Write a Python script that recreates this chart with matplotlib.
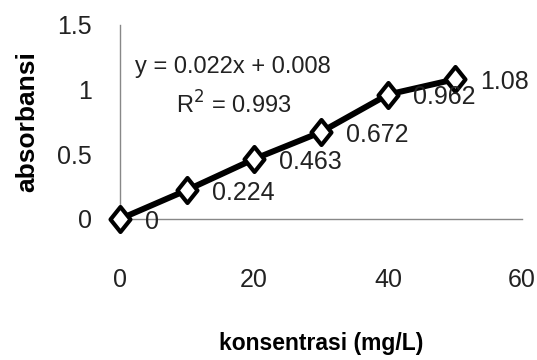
import matplotlib.pyplot as plt
from matplotlib.path import Path

konsentrasi = [0, 10, 20, 30, 40, 50]
absorbansi = [0, 0.224, 0.463, 0.672, 0.962, 1.08]
labels = ['0', '0.224', '0.463', '0.672', '0.962', '1.08']
xticks = [0, 20, 40, 60]
yticks = [0, 0.5, 1, 1.5]
ytick_labels = ['0', '0.5', '1', '1.5']

plt.rcParams['font.family'] = ['Liberation Sans', 'DejaVu Sans']

# excel style diamond, a bit taller than wide
diamond = Path([(0, 1), (0.8, 0), (0, -1), (-0.8, 0), (0, 1)],
               [Path.MOVETO, Path.LINETO, Path.LINETO, Path.LINETO, Path.CLOSEPOLY])

fig = plt.figure(figsize=(5.37, 3.6), dpi=100)
ax = fig.add_axes([0.2235, 0.3917, 0.7485, 0.539])

ax.plot(konsentrasi, absorbansi, c='black', lw=4.3, marker=diamond,
        ms=18, mfc='white', mec='black', mew=3, zorder=3, clip_on=False)
for x, y, t in zip(konsentrasi, absorbansi, labels):
    ax.annotate(t, (x, y), xytext=(18, -2), textcoords='offset points',
                ha='left', va='center', fontsize=18, color='#222222')

ax.text(0.281, 0.784, 'y = 0.022x + 0.008', transform=ax.transAxes,
        ha='center', va='center', fontsize=17, color='#222222')
ax.text(0.284, 0.588, 'R$^2$ = 0.993', transform=ax.transAxes,
        ha='center', va='center', fontsize=17, color='#222222')

ax.set_xlim(0, 60)
ax.set_ylim(0, 1.5)
ax.set_xticks(xticks)
ax.set_yticks(yticks)
ax.set_yticklabels(ytick_labels)
ax.tick_params(length=0, labelsize=18, colors='#222222')
ax.tick_params(axis='x', pad=35)
ax.tick_params(axis='y', pad=20)
for s in ['top', 'right']:
    ax.spines[s].set_visible(False)
for s in ['left', 'bottom']:
    ax.spines[s].set_color('#888888')
    ax.spines[s].set_linewidth(1)

ax.set_xlabel('konsentrasi (mg/L)', fontsize=16.5, fontweight='bold', labelpad=29)
ax.set_ylabel('absorbansi', fontsize=19, fontweight='bold', labelpad=13)

fig.savefig('out.png', dpi=100)
